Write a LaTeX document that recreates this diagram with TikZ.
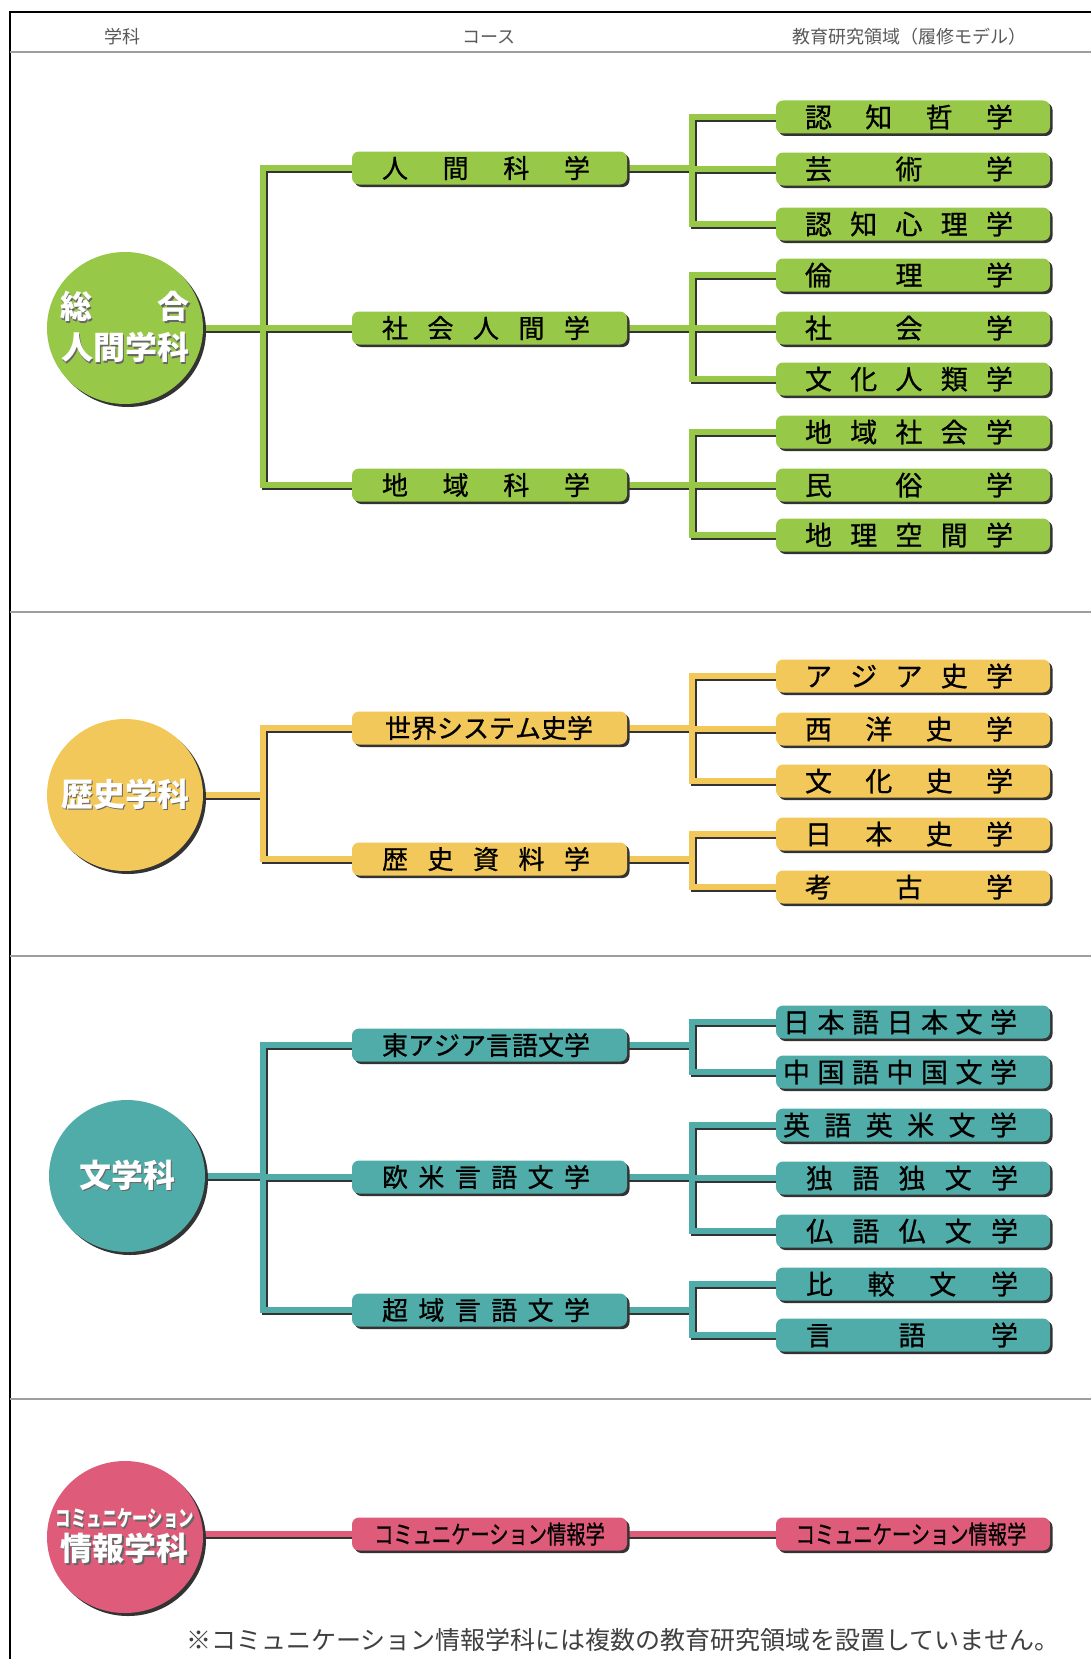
\documentclass[tikz,border=0pt]{standalone}
\usepackage{fontspec}
\usepackage{graphicx}
\setmainfont{Noto Sans CJK JP}
\newfontfamily\boxfont[FakeBold=0.8]{Noto Sans CJK JP}
\usetikzlibrary{shapes.geometric,shadows}
\pgfdeclarelayer{bg}
\pgfsetlayers{bg,main}

\definecolor{grn}{RGB}{152,200,72}
\definecolor{yel}{RGB}{242,200,90}
\definecolor{tea}{RGB}{80,172,168}
\definecolor{pnk}{RGB}{222,92,122}

% white lettering with a soft dark shadow
\newcommand\shadowed[1]{\makebox[0pt][l]{\kern1.5pt\raisebox{-1.5pt}{\textcolor{black!60}{#1}}}\textcolor{white}{#1}}
% letters spread evenly over a fixed width
\newcommand\lbl[2]{\makebox[#1][s]{#2}}

% connector paths of each department
\newcommand\greenlinks[1]{%
  \draw[#1] (g.east) -- (g.east -| s1)
    (s1 |- g1) -- (s1 |- g3)
    (s1 |- g1) -- (g1.west) (s1 |- g2) -- (g2.west) (s1 |- g3) -- (g3.west)
    (g1.east) -- (g1.east -| s2) (s2 |- g11) -- (s2 |- g13)
    (s2 |- g11) -- (g11.west) (s2 |- g12) -- (g12.west) (s2 |- g13) -- (g13.west)
    (g2.east) -- (g2.east -| s2) (s2 |- g21) -- (s2 |- g23)
    (s2 |- g21) -- (g21.west) (s2 |- g22) -- (g22.west) (s2 |- g23) -- (g23.west)
    (g3.east) -- (g3.east -| s2) (s2 |- g31) -- (s2 |- g33)
    (s2 |- g31) -- (g31.west) (s2 |- g32) -- (g32.west) (s2 |- g33) -- (g33.west);}
\newcommand\yellowlinks[1]{%
  \draw[#1] (y.east) -- (y.east -| s1)
    (s1 |- y1) -- (s1 |- y2)
    (s1 |- y1) -- (y1.west) (s1 |- y2) -- (y2.west)
    (y1.east) -- (y1.east -| s2) (s2 |- y11) -- (s2 |- y13)
    (s2 |- y11) -- (y11.west) (s2 |- y12) -- (y12.west) (s2 |- y13) -- (y13.west)
    (y2.east) -- (y2.east -| s2) (s2 |- y21) -- (s2 |- y22)
    (s2 |- y21) -- (y21.west) (s2 |- y22) -- (y22.west);}
\newcommand\teallinks[1]{%
  \draw[#1] (t.east) -- (t.east -| s1)
    (s1 |- t1) -- (s1 |- t3)
    (s1 |- t1) -- (t1.west) (s1 |- t2) -- (t2.west) (s1 |- t3) -- (t3.west)
    (t1.east) -- (t1.east -| s2) (s2 |- t11) -- (s2 |- t12)
    (s2 |- t11) -- (t11.west) (s2 |- t12) -- (t12.west)
    (t2.east) -- (t2.east -| s2) (s2 |- t21) -- (s2 |- t23)
    (s2 |- t21) -- (t21.west) (s2 |- t22) -- (t22.west) (s2 |- t23) -- (t23.west)
    (t3.east) -- (t3.east -| s2) (s2 |- t31) -- (s2 |- t32)
    (s2 |- t31) -- (t31.west) (s2 |- t32) -- (t32.west);}
\newcommand\pinklinks[1]{%
  \draw[#1] (p1.west -| p.east) -- (p1.west) (p1.east) -- (p11.west);}

\begin{document}
\begin{tikzpicture}[x=1pt,y=-1pt,
  deptnode/.style={ellipse, minimum width=156pt, minimum height=152pt, inner sep=0pt,
    drop shadow={shadow xshift=3pt, shadow yshift=-3pt, fill=black!80, opacity=1}},
  depttext/.style={font=\fontsize{32}{41}\selectfont\bfseries, align=center, inner sep=0pt},
  coursebox/.style={rounded corners=7pt, minimum width=275pt, minimum height=33pt, inner sep=0pt,
    drop shadow={shadow xshift=2.5pt, shadow yshift=-2.5pt, fill=black!80, opacity=1},
    font=\boxfont\fontsize{26}{30}\selectfont},
  areabox/.style={coursebox, minimum width=274pt, font=\boxfont\fontsize{27}{30}\selectfont},
  linkline/.style={line width=6pt, line cap=rect},
  linkshade/.style={linkline, draw=black!80},
  seprule/.style={draw=black!38, line width=2.5pt},
  headtext/.style={font=\fontsize{18}{20}\selectfont, text=black!65},
]
\useasboundingbox (0,0) rectangle (1091,1659);
\begin{pgfonlayer}{bg}
  \fill[white] (0,0) rectangle (1091,1659);
\end{pgfonlayer}

% frame and rules
\draw[line width=2.5pt] (10,1659) -- (10,12) -- (1091,12);
\draw[seprule] (10,52) -- (1091,52);
\draw[seprule] (10,612) -- (1091,612);
\draw[seprule] (10,956) -- (1091,956);
\draw[seprule] (10,1399) -- (1091,1399);

% column heads
\node[headtext] (h1) at (122,37) {学科};
\node[headtext] (h2) at (489,37) {コース};
\node[headtext] (h3) at (909,37) {教育研究領域（履修モデル）};

% spine positions
\coordinate (s1) at (263,0);
\coordinate (s2) at (692,0);

% ---------- 総合人間学科 ----------
\node[deptnode, fill=grn] (g) at (125,328) {};
\node[depttext] (gl) at (g.center) {\shadowed{\lbl{130pt}{総\hfill 合}}\\\shadowed{人間学科}};
\node[coursebox, fill=grn] (g1) at (489.5,168) {\lbl{208pt}{人\hfill 間\hfill 科\hfill 学}\kern7pt};
\node[coursebox, fill=grn] (g2) at (489.5,328) {\lbl{208pt}{社\hfill 会\hfill 人\hfill 間\hfill 学}\kern7pt};
\node[coursebox, fill=grn] (g3) at (489.5,485) {\lbl{208pt}{地\hfill 域\hfill 科\hfill 学}\kern7pt};
\node[areabox, fill=grn] (g11) at (913,117) {\lbl{208pt}{認\hfill 知\hfill 哲\hfill 学}\kern8pt};
\node[areabox, fill=grn] (g12) at (913,169) {\lbl{208pt}{芸\hfill 術\hfill 学}\kern8pt};
\node[areabox, fill=grn] (g13) at (913,224) {\lbl{208pt}{認\hfill 知\hfill 心\hfill 理\hfill 学}\kern8pt};
\node[areabox, fill=grn] (g21) at (913,275) {\lbl{208pt}{倫\hfill 理\hfill 学}\kern8pt};
\node[areabox, fill=grn] (g22) at (913,328) {\lbl{208pt}{社\hfill 会\hfill 学}\kern8pt};
\node[areabox, fill=grn] (g23) at (913,379) {\lbl{208pt}{文\hfill 化\hfill 人\hfill 類\hfill 学}\kern8pt};
\node[areabox, fill=grn] (g31) at (913,432) {\lbl{208pt}{地\hfill 域\hfill 社\hfill 会\hfill 学}\kern8pt};
\node[areabox, fill=grn] (g32) at (913,485) {\lbl{208pt}{民\hfill 俗\hfill 学}\kern8pt};
\node[areabox, fill=grn] (g33) at (913,535) {\lbl{208pt}{地\hfill 理\hfill 空\hfill 間\hfill 学}\kern8pt};

% ---------- 歴史学科 ----------
\node[deptnode, fill=yel] (y) at (125,795) {};
\node[depttext] (yl) at (y.center) {\shadowed{歴史学科}};
\node[coursebox, fill=yel] (y1) at (489.5,728) {\lbl{204pt}{世\hfill 界\hfill シ\hfill ス\hfill テ\hfill ム\hfill 史\hfill 学}\kern5pt};
\node[coursebox, fill=yel] (y2) at (489.5,859) {\lbl{208pt}{歴\hfill 史\hfill 資\hfill 料\hfill 学}\kern7pt};
\node[areabox, fill=yel] (y11) at (913,676) {\lbl{208pt}{ア\hfill ジ\hfill ア\hfill 史\hfill 学}\kern8pt};
\node[areabox, fill=yel] (y12) at (913,729) {\lbl{208pt}{西\hfill 洋\hfill 史\hfill 学}\kern8pt};
\node[areabox, fill=yel] (y13) at (913,781) {\lbl{208pt}{文\hfill 化\hfill 史\hfill 学}\kern8pt};
\node[areabox, fill=yel] (y21) at (913,834) {\lbl{208pt}{日\hfill 本\hfill 史\hfill 学}\kern8pt};
\node[areabox, fill=yel] (y22) at (913,887) {\lbl{208pt}{考\hfill 古\hfill 学}\kern8pt};

% ---------- 文学科 ----------
\node[deptnode, fill=tea] (t) at (127,1176) {};
\node[depttext] (tl) at (t.center) {\shadowed{文学科}};
\node[coursebox, fill=tea] (t1) at (489.5,1045) {\lbl{208pt}{東\hfill ア\hfill ジ\hfill ア\hfill 言\hfill 語\hfill 文\hfill 学}\kern7pt};
\node[coursebox, fill=tea] (t2) at (489.5,1177) {\lbl{208pt}{欧\hfill 米\hfill 言\hfill 語\hfill 文\hfill 学}\kern7pt};
\node[coursebox, fill=tea] (t3) at (489.5,1310) {\lbl{208pt}{超\hfill 域\hfill 言\hfill 語\hfill 文\hfill 学}\kern7pt};
\node[areabox, fill=tea] (t11) at (913,1022) {\lbl{234pt}{日\hfill 本\hfill 語\hfill 日\hfill 本\hfill 文\hfill 学}\kern26pt};
\node[areabox, fill=tea] (t12) at (913,1072) {\lbl{234pt}{中\hfill 国\hfill 語\hfill 中\hfill 国\hfill 文\hfill 学}\kern26pt};
\node[areabox, fill=tea] (t21) at (913,1125) {\lbl{234pt}{英\hfill 語\hfill 英\hfill 米\hfill 文\hfill 学}\kern26pt};
\node[areabox, fill=tea] (t22) at (913,1178) {\lbl{212pt}{独\hfill 語\hfill 独\hfill 文\hfill 学}\kern2pt};
\node[areabox, fill=tea] (t23) at (913,1231) {\lbl{212pt}{仏\hfill 語\hfill 仏\hfill 文\hfill 学}\kern2pt};
\node[areabox, fill=tea] (t31) at (913,1284) {\lbl{212pt}{比\hfill 較\hfill 文\hfill 学}\kern2pt};
\node[areabox, fill=tea] (t32) at (913,1335) {\lbl{212pt}{言\hfill 語\hfill 学}\kern2pt};

% ---------- コミュニケーション情報学科 ----------
\node[deptnode, fill=pnk] (p) at (125,1537) {};
\node[depttext] (pl) at (p.center)
  {\shadowed{\scalebox{0.7}[1]{\fontsize{22}{24}\selectfont コミュニケーション}}\\[-7pt]\shadowed{情報学科}};
\node[coursebox, fill=pnk] (p1) at (489.5,1534) {\scalebox{0.77}[1]{\fontsize{25}{28}\selectfont コミュニケーション情報学}};
\node[areabox, fill=pnk] (p11) at (913,1534) {\scalebox{0.77}[1]{\fontsize{25}{28}\selectfont コミュニケーション情報学}\kern4pt};

% note
\node[anchor=west, font=\fontsize{25}{28}\selectfont, text=black!75, inner sep=0pt] (note) at (186,1640)
  {※コミュニケーション情報学科には複数の教育研究領域を設置していません。};

% connectors: shadow layer first, colour on top
\begin{pgfonlayer}{bg}
  \begin{scope}[transform canvas={shift={(2pt,-2pt)}}]
    \greenlinks{linkshade}
    \yellowlinks{linkshade}
    \teallinks{linkshade}
    \pinklinks{linkshade}
  \end{scope}
  \greenlinks{linkline, draw=grn}
  \yellowlinks{linkline, draw=yel}
  \teallinks{linkline, draw=tea}
  \pinklinks{linkline, draw=pnk}
\end{pgfonlayer}
\end{tikzpicture}
\end{document}
